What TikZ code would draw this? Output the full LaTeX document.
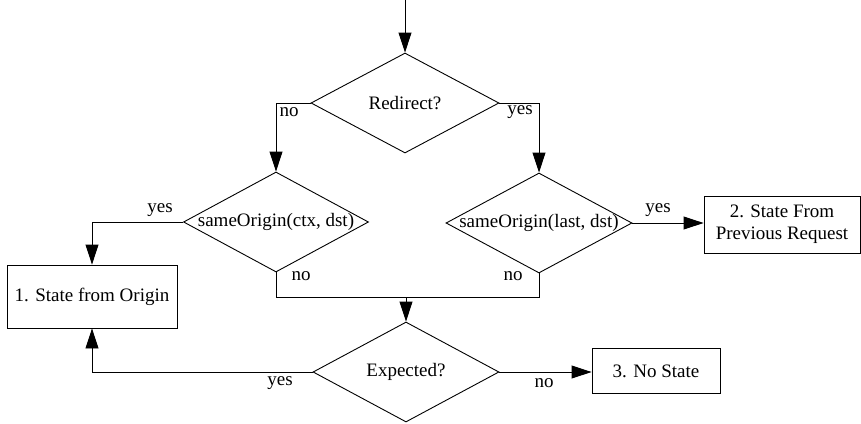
\documentclass[tikz,border=0pt]{standalone}
\usepackage{fontspec}
\setmainfont{Liberation Serif}
\usetikzlibrary{shapes.geometric,arrows.meta}
\begin{document}
\begin{tikzpicture}[x=1pt,y=-1pt,line width=0.9pt,
  every node/.style={font=\fontsize{19}{22}\selectfont},
  decision/.style={draw,diamond,inner sep=0pt,minimum width=#1,minimum height=100pt},
  decision/.default=187pt,
  outcome/.style={draw,rectangle,inner sep=0pt,align=center},
  lbl/.style={inner sep=0pt},
  arr/.style={-{Triangle[length=20pt,width=13pt]}}]
\useasboundingbox (0,0) rectangle (861,423);

% decisions
\node[decision=188pt] (d1) at (405,103) {\makebox[0pt]{Redirect?}};
\node[decision=185pt] (d2) at (276,222) {\makebox[0pt]{sameOrigin(ctx, dst)}};
\node[decision=186pt] (d3) at (539,223) {\makebox[0pt]{sameOrigin(last, dst)}};
\node[decision=186pt] (d4) at (406,372) {\makebox[0pt]{Expected?}};

% outcomes
\node[outcome,minimum width=170pt,minimum height=63pt] (b1) at (92,296.5) {1. State from Origin};
\node[outcome,minimum width=156pt,minimum height=57pt] (b2) at (782,224.5) {2. State From\\Previous Request};
\node[outcome,minimum width=128pt,minimum height=45pt] (b3) at (656,371) {3. No State};

\coordinate (start) at (405,0);
\coordinate (merge) at (406,297);

% connectors
\draw[arr] (start) -- (d1.north);
\draw[arr] (d1.west) -| (d2.north);
\draw[arr] (d1.east) -| (d3.north);
\draw[arr] (d2.west) -| (b1.north);
\draw[arr] (d3.east) -- (d3.east -| b2.west);
\draw (d2.south) |- (merge);
\draw (d3.south) |- (merge);
\draw[arr] (merge) -- (d4.north);
\draw[arr] (d4.west) -| (b1.south);
\draw[arr] (d4.east) -- (d4.east -| b3.west);

% labels
\node[lbl] (l1) at (289,112) {no};
\node[lbl] (l2) at (520,112) {yes};
\node[lbl] (l3) at (160,210) {yes};
\node[lbl] (l4) at (301,276) {no};
\node[lbl] (l5) at (658,210) {yes};
\node[lbl] (l6) at (513,276) {no};
\node[lbl] (l7) at (280,383) {yes};
\node[lbl] (l8) at (544,383) {no};
\end{tikzpicture}
\end{document}
